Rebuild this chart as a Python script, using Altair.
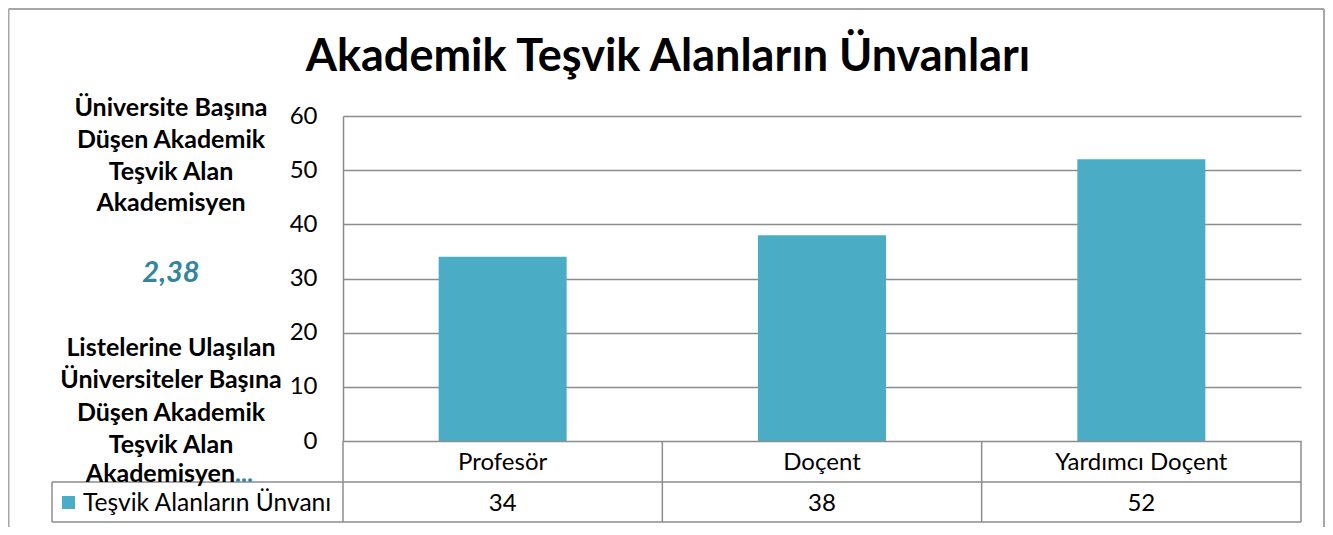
import altair as alt
import pandas as pd

# ---- data ----
categories = ["Profesör", "Doçent", "Yardımcı Doçent"]
values = [34, 38, 52]
series_name = "Teşvik Alanların Ünvanı"
title_text = "Akademik Teşvik Alanların Ünvanları"
y_ticks = [0, 10, 20, 30, 40, 50, 60]
side_top = ["Üniversite Başına", "Düşen Akademik", "Teşvik Alan", "Akademisyen"]
side_value = "2,38"
side_bottom = ["Listelerine Ulaşılan", "Üniversiteler  Başına", "Düşen Akademik", "Teşvik Alan"]
side_last = "Akademisyen"
side_dots = "..."

# ---- styling ----
W, H = 958, 325
FONT = "Lato"
BAR = "#4BACC6"
TEAL = "#31859C"
GRID = "#8c8c8c"
BORDER = "#a6a6a6"

df = pd.DataFrame({"cat": categories, "val": values})
one = alt.Data(values=[{}])

xenc = alt.X("cat:N", sort=categories,
             scale=alt.Scale(domain=categories, paddingInner=0, paddingOuter=0),
             axis=None)
yenc = alt.Y("val:Q", scale=alt.Scale(domain=[0, 60]),
             axis=alt.Axis(values=y_ticks, title=None, grid=True, gridColor=GRID,
                           gridWidth=1.5, tickSize=0, labelPadding=26,
                           labelFontSize=24, labelFont=FONT, labelColor="#000000",
                           domain=True, domainColor=GRID, domainWidth=1.5))

base = alt.Chart(df)

bars = base.mark_bar(size=128, color=BAR).encode(x=xenc, y=yenc)

cat_text = base.mark_text(font=FONT, fontSize=24, color="#000000", baseline="middle").encode(
    x=xenc, y=alt.value(347), text="cat:N")
val_text = base.mark_text(font=FONT, fontSize=24, color="#000000", baseline="middle").encode(
    x=xenc, y=alt.value(388), text="val:Q")

# table vertical lines at band starts
vlines = base.mark_rule(color=GRID, strokeWidth=1.5).encode(
    x=alt.X("cat:N", sort=categories, bandPosition=0,
            scale=alt.Scale(domain=categories, paddingInner=0, paddingOuter=0), axis=None),
    y=alt.value(325), y2=alt.value(406))

def rule(x, x2, y, y2, color=GRID, w=1.5):
    return alt.Chart(one).mark_rule(color=color, strokeWidth=w).encode(
        x=alt.value(x), x2=alt.value(x2), y=alt.value(y), y2=alt.value(y2))

table_lines = [
    rule(W, W, 325, 406),
    rule(-291, W, 366, 366),
    rule(-291, W, 406, 406),
    rule(-291, -291, 366, 406),
]

border = [
    rule(-334.5, -334.5, -107, 420, BORDER, 2),
    rule(-334.5, 981, -107, -107, BORDER, 2),
    rule(981, 981, -107, 420, BORDER, 2),
]

def txt(s, x, y, size=25, weight="bold", color="#000000", align="center", style="normal"):
    return alt.Chart(one).mark_text(font=FONT, fontSize=size, fontWeight=weight, color=color,
                                    align=align, baseline="middle", fontStyle=style).encode(
        x=alt.value(x), y=alt.value(y), text=alt.value(s))

CX = -172
side = []
for s, yy in zip(side_top, [-8, 24, 56, 87]):
    side.append(txt(s, CX, yy))
side.append(txt(side_value, CX, 157, size=29, color=TEAL, style="italic"))
for s, yy in zip(side_bottom, [232, 264, 297, 329]):
    side.append(txt(s, CX, yy))
side.append(txt(side_last, -108, 358, align="right"))
side.append(txt(side_dots, -108, 358, align="left", color=TEAL))

title = txt(title_text, 325, -59, size=45)

legend_sq = alt.Chart(one).mark_square(color=BAR, size=169, opacity=1).encode(
    x=alt.value(-274.5), y=alt.value(386.5))
legend_txt = txt(series_name, -260, 388, size=24.6, weight="normal", align="left")

chart = alt.layer(
    bars, *table_lines, vlines, cat_text, val_text, *border, *side, title,
    legend_sq, legend_txt
).properties(
    width=W, height=H,
    padding={"left": 335, "top": 108, "right": 24, "bottom": 86},
    autosize="none",
).configure_view(stroke=None)

chart.save("out.html", embed_options={"renderer": "svg", "actions": False})
